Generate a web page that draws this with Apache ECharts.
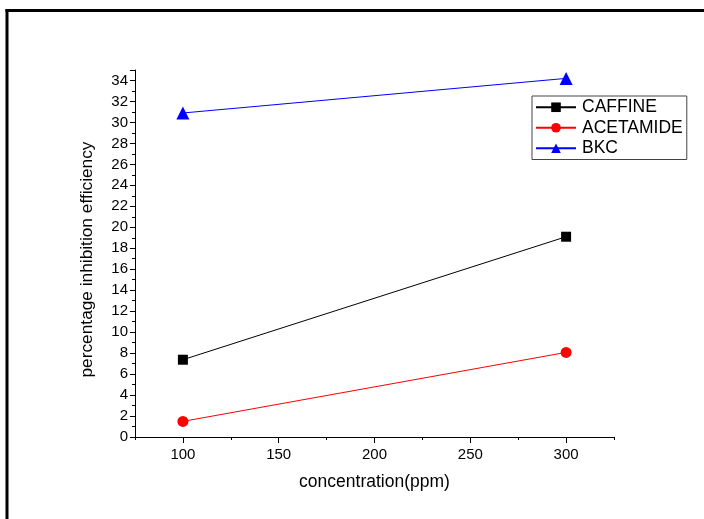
<!DOCTYPE html>
<html>
<head>
<meta charset="utf-8">
<script src="https://cdn.jsdelivr.net/npm/echarts@6/dist/echarts.min.js"></script>
<style>
  html, body { margin: 0; padding: 0; background: #fff; }
  #chart { width: 704px; height: 519px; }
</style>
</head>
<body>
<div id="chart"></div>
<script>
// concentration (ppm)
var concentration = [100, 300];
var caffine = [7.37, 19.1];
var acetamide = [1.49, 8.07];
var bkc = [30.9, 34.2];

var majorTicksX = [100, 150, 200, 250, 300];
var minorTicksX = [75, 125, 175, 225, 275, 325];

var FONT = "Liberation Sans, Arial, sans-serif";

function pairs(xs, ys) {
  return xs.map(function (x, i) { return [x, ys[i]]; });
}

var chart = echarts.init(document.getElementById("chart"));

var option = {
  backgroundColor: "#fff",
  animation: false,
  textStyle: { fontFamily: FONT, color: "#000" },
  grid: { left: 135, right: 90, top: 70, bottom: 82 },
  legend: {
    orient: "vertical",
    left: 532,
    top: 96,
    width: 153,
    padding: [1, 4, 1, 3],
    itemWidth: 40,
    itemHeight: 12,
    itemGap: 0,
    borderColor: "#444",
    borderWidth: 1,
    textStyle: { fontFamily: FONT, fontSize: 17.5, lineHeight: 20.5, color: "#000", padding: [0, 0, 0, 1] },
    data: ["CAFFINE", "ACETAMIDE", "BKC"]
  },
  xAxis: [
    {
      type: "value",
      min: 75,
      max: 325,
      position: "bottom",
      name: "concentration(ppm)",
      nameLocation: "middle",
      nameGap: 36,
      nameTextStyle: { fontFamily: FONT, fontSize: 17.5, color: "#000" },
      splitLine: { show: false },
      axisLine: { lineStyle: { color: "#000", width: 1 } },
      axisTick: { customValues: majorTicksX, length: 6, lineStyle: { color: "#000" } },
      axisLabel: { customValues: majorTicksX, fontFamily: FONT, fontSize: 15, color: "#000", margin: 10 }
    },
    {
      type: "value",
      min: 75,
      max: 325,
      position: "bottom",
      offset: 0,
      splitLine: { show: false },
      axisLine: { show: false },
      axisTick: { customValues: minorTicksX, length: 3, lineStyle: { color: "#000" } },
      axisLabel: { show: false }
    }
  ],
  yAxis: {
    type: "value",
    min: 0,
    max: 35,
    interval: 2,
    name: "percentage inhibition efficiency",
    nameLocation: "middle",
    nameGap: 39,
    nameTextStyle: { fontFamily: FONT, fontSize: 17.3, color: "#000", padding: [0, 12, 0, 0] },
    splitLine: { show: false },
    axisLine: { show: true, lineStyle: { color: "#000", width: 1 } },
    axisTick: { length: 5, lineStyle: { color: "#000" } },
    minorTick: { show: true, splitNumber: 2, length: 3, lineStyle: { color: "#000" } },
    axisLabel: { fontFamily: FONT, fontSize: 15, color: "#000", margin: 7, showMaxLabel: false }
  },
  series: [
    {
      name: "CAFFINE",
      type: "line",
      data: pairs(concentration, caffine),
      symbol: "rect",
      symbolSize: 10,
      itemStyle: { color: "#000" },
      lineStyle: { color: "#000", width: 1 }
    },
    {
      name: "ACETAMIDE",
      type: "line",
      data: pairs(concentration, acetamide),
      symbol: "circle",
      symbolSize: 11,
      itemStyle: { color: "#ff0000" },
      lineStyle: { color: "#ff0000", width: 1 }
    },
    {
      name: "BKC",
      type: "line",
      data: pairs(concentration, bkc),
      symbol: "triangle",
      symbolSize: 13,
      itemStyle: { color: "#0000ff" },
      lineStyle: { color: "#0000ff", width: 1 }
    }
  ],
  graphic: [
    {
      type: "line",
      shape: { x1: 5.5, y1: 10.5, x2: 704, y2: 10.5 },
      style: { stroke: "#000", lineWidth: 3 }
    },
    {
      type: "line",
      shape: { x1: 7, y1: 9, x2: 7, y2: 519 },
      style: { stroke: "#000", lineWidth: 3 }
    }
  ]
};

chart.setOption(option);
</script>
</body>
</html>
